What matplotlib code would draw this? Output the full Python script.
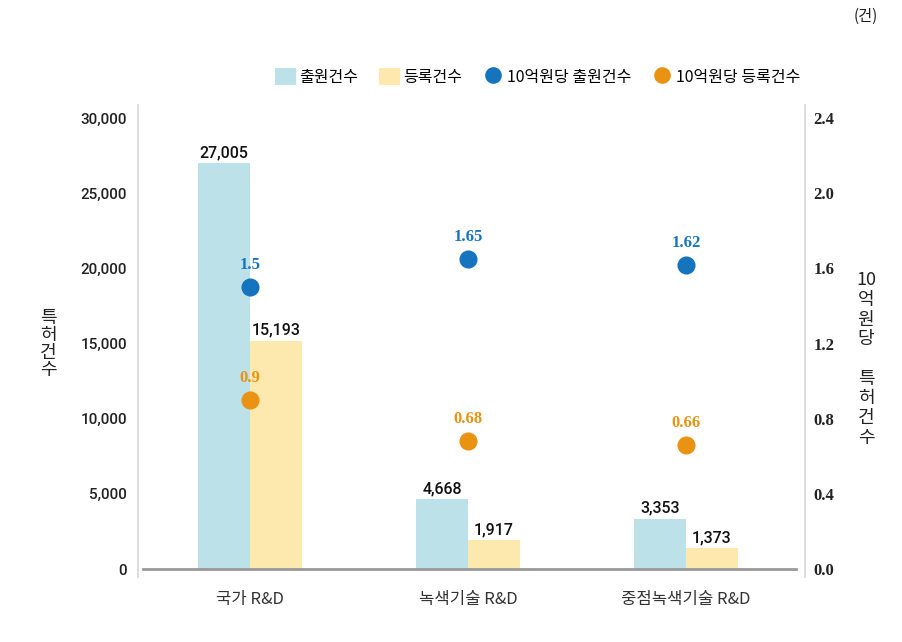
import numpy as np
import matplotlib
matplotlib.use('Agg')
import matplotlib.pyplot as plt
from matplotlib.patches import Patch
from matplotlib.lines import Line2D

#%% Data
categories = ['국가 R&D', '녹색기술 R&D', '중점녹색기술 R&D']
apply_cnt = [27005, 4668, 3353]        # 출원건수
reg_cnt = [15193, 1917, 1373]          # 등록건수
apply_per = [1.5, 1.65, 1.62]          # 10억원당 출원건수
reg_per = [0.9, 0.68, 0.66]            # 10억원당 등록건수
apply_per_lbl = ['1.5', '1.65', '1.62']
reg_per_lbl = ['0.9', '0.68', '0.66']
left_ticks = [0, 5000, 10000, 15000, 20000, 25000, 30000]
right_ticks = [0.0, 0.4, 0.8, 1.2, 1.6, 2.0, 2.4]

#%% Style
plt.rcParams['font.family'] = ['Noto Sans CJK KR', 'DejaVu Sans']
c_bar1 = '#bde1e8'
c_bar2 = '#fde8ad'
c_dot1 = '#1673bd'
c_dot2 = '#ea9211'
spine_c = '#dddddd'
num_font = ['Roboto', 'Noto Sans CJK KR']
serif_font = ['Liberation Serif', 'DejaVu Serif']

fig = plt.figure(figsize=(9.03, 6.42), dpi=100)
ax = fig.add_axes([0.1528, 0.1012, 0.7387, 0.7352])
ax2 = ax.twinx()

x = np.arange(len(categories))
w = 0.2385

ax.bar(x - w/2, apply_cnt, w, color=c_bar1, zorder=2)
ax.bar(x + w/2, reg_cnt, w, color=c_bar2, zorder=2)

for xi, v in zip(x - w/2, apply_cnt):
    ax.annotate(f'{v:,}', (xi, v), xytext=(0, 2), textcoords='offset points',
                ha='center', va='bottom', fontsize=11.5, color='#111111',
                family=num_font, fontweight='medium')
for xi, v in zip(x + w/2, reg_cnt):
    ax.annotate(f'{v:,}', (xi, v), xytext=(0, 2), textcoords='offset points',
                ha='center', va='bottom', fontsize=11.5, color='#111111',
                family=num_font, fontweight='medium')

ax2.scatter(x, apply_per, s=170, color=c_dot1, zorder=3, linewidths=0)
ax2.scatter(x, reg_per, s=170, color=c_dot2, zorder=3, linewidths=0)
for xi, v, t in zip(x, apply_per, apply_per_lbl):
    ax2.annotate(t, (xi, v), xytext=(0, 10), textcoords='offset points',
                 ha='center', va='bottom', fontsize=12, color=c_dot1,
                 fontweight='bold', family=serif_font)
for xi, v, t in zip(x, reg_per, reg_per_lbl):
    ax2.annotate(t, (xi, v), xytext=(0, 10), textcoords='offset points',
                 ha='center', va='bottom', fontsize=12, color=c_dot2,
                 fontweight='bold', family=serif_font)

#%% Axes
ax.set_xlim(-0.514, 2.546)
ax.set_ylim(-532, 30865)
ax2.set_ylim(-532 * 2.4 / 30000, 30865 * 2.4 / 30000)

ax.set_xticks(x)
ax.set_xticklabels(categories, fontsize=12, color='#333333')
ax.tick_params(axis='x', length=0, pad=10)

ax.set_yticks(left_ticks)
ax.set_yticklabels([f'{t:,}' for t in left_ticks], fontsize=11, color='#222222',
                   family=num_font, fontweight='medium')
ax.tick_params(axis='y', length=0, pad=8)

ax2.set_yticks(right_ticks)
ax2.set_yticklabels([f'{t:.1f}' for t in right_ticks], fontsize=12, color='#222222',
                    fontweight='bold', family=serif_font)
ax2.tick_params(axis='y', length=0, pad=6)

for a in (ax, ax2):
    a.spines['top'].set_visible(False)
    a.spines['bottom'].set_visible(False)
    a.spines['left'].set_color(spine_c)
    a.spines['right'].set_color(spine_c)
    a.spines['left'].set_linewidth(1.2)
    a.spines['right'].set_linewidth(1.2)

ax.axhline(0, xmin=0.0068, xmax=0.9865, color='#999999', linewidth=2, zorder=3)

# stacked vertical labels
fig.text(48/903, 1 - 344/642, '특\n허\n건\n수', ha='center', va='center',
         fontsize=13, color='#222222', linespacing=0.95)
fig.text(866/903, 1 - 359/642, '10\n억\n원\n당\n\n특\n허\n건\n수', ha='center', va='center',
         fontsize=13, color='#222222', linespacing=1.12)
fig.text(866/903, 1 - 16/642, '(건)', ha='center', va='center', fontsize=11, color='#222222')

#%% Legend
handles = [
    Patch(facecolor=c_bar1, edgecolor='none'),
    Patch(facecolor=c_bar2, edgecolor='none'),
    Line2D([], [], marker='o', linestyle='none', markersize=12, color=c_dot1, markeredgewidth=0),
    Line2D([], [], marker='o', linestyle='none', markersize=12, color=c_dot2, markeredgewidth=0),
]
labels = ['출원건수', '등록건수', '10억원당 출원건수', '10억원당 등록건수']
fig.legend(handles, labels, ncol=4, frameon=False, loc='center right',
           bbox_to_anchor=(808/903, 1 - 77/642), fontsize=11.5, handlelength=1.3,
           handleheight=1.3, handletextpad=0.2, columnspacing=1.3, borderpad=0)

fig.savefig('out.png', dpi=100)
